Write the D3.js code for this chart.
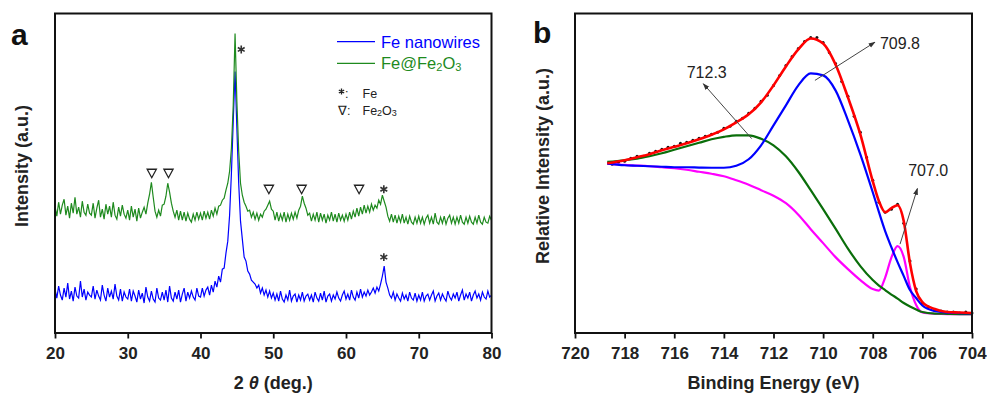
<!DOCTYPE html>
<html><head><meta charset="utf-8">
<script src="https://cdn.jsdelivr.net/npm/d3@7"></script>
<style>
body{margin:0;background:#fff;}
text{font-family:Arial,"Liberation Sans",sans-serif;}
</style></head><body>
<svg id="chart" width="987" height="396"></svg>
<script>
// ---------- Panel a: XRD (2θ grid 20..80, step 0.25) ----------
const xrdThetaStart = 20;
const xrdThetaStep = 0.25;
const xrdFeNanowires = [
 44,35,47,38,33,45,36,50,34,42,32,46,37,35,52,36,44,33,41,38,
 36,47,34,43,37,33,48,38,32,45,36,42,34,49,37,33,44,32,41,36,
 34,44,32,42,37,31,43,34,40,30,46,36,32,42,34,31,45,35,33,41,
 33,43,31,47,35,32,41,34,43,31,39,45,32,41,35,42,36,33,45,37,
 36,45,37,43,46,38,48,41,52,46,57,51,64,65,80,92,118,160,212,262,
 205,150,112,94,76,72,62,59,53,51,49,45,48,40,45,38,43,36,42,35,
 40,33,39,32,42,34,31,38,33,43,32,37,39,31,38,33,41,32,37,39,
 33,38,31,41,35,32,40,33,42,31,37,39,32,38,34,41,35,32,38,42,
 34,39,33,43,36,33,41,35,44,36,41,37,43,38,41,45,40,46,42,49,
 57,67,51,45,38,35,41,33,39,35,32,40,34,38,32,41,35,33,40,32,
 38,33,41,32,37,39,33,38,42,32,37,40,33,39,35,32,42,36,33,39,
 35,41,32,38,43,33,39,35,41,32,38,42,35,39,33,41,36,34,42,36,
 38
];
const xrdFeFe2O3 = [
 127,117,131,119,128,134,118,127,115,130,120,136,119,126,116,132,121,118,129,120,
 118,130,115,125,133,116,124,114,129,119,127,116,131,118,114,126,117,128,119,115,
 123,113,127,116,124,112,125,115,121,126,119,130,139,151,136,122,116,123,117,128,
 129,137,150,141,130,122,116,123,113,122,113,121,112,120,114,111,119,113,121,114,
 120,113,122,115,121,114,123,117,125,119,127,128,133,135,143,150,162,185,228,300,
 232,182,150,138,131,127,122,123,116,121,114,120,113,119,116,122,124,128,132,124,
 122,113,121,112,119,113,121,111,119,113,120,114,121,115,123,127,137,130,125,118,
 120,112,119,113,121,111,120,113,119,110,118,113,121,112,119,111,120,113,118,112,
 119,113,121,114,122,116,125,117,126,119,128,120,127,121,129,123,128,125,133,129,
 138,132,126,117,112,119,111,118,110,117,111,119,110,116,109,117,111,109,116,110,
 117,110,116,109,115,118,110,116,109,120,111,109,116,110,117,109,115,118,110,116,
 109,116,110,118,111,109,116,110,117,111,109,116,110,118,111,109,116,111,110,117,
 113
];
const xrdTicks = [20, 30, 40, 50, 60, 70, 80];
const xrdMinorTicks = [25, 35, 45, 55, 65, 75];
const fe2o3MarkTheta = [33.3, 35.6, 49.4, 53.9, 61.8];
const fe2o3MarkLevel = [160, 160, 144, 144, 144];
const feMarkTheta = [45.6, 65.2, 65.2];
const feMarkLevel = [284, 144, 76];
const xrdSeriesNames = ["Fe nanowires", "Fe@Fe2O3"];

// ---------- Panel b: XPS Fe 2p3/2 ----------
const xpsEnergy = [718.7,718,717.5,717,716.5,716,715.5,715,714.5,714,713.5,713,712.5,712,711.5,711,710.5,710,709.5,709,708.5,708,707.75,707.5,707.25,707,706.75,706.5,706.25,706,705.5,705,704.5,704];
const xpsEnvelope = [170,173,176,179,183,186.5,190,194,198.5,204,211,219,231,248,267,284,295,290,269,236,199,152,132,121,125,128,112,70,42,31,24,21,20.5,20];
const xpsPeak7098 = [169.7,168,167.5,167,166.5,166,166,165.7,165.5,165.5,167.5,174,188,208,228,248,260,258,243,213,179,141,121,102,86,71,57,43,35,27.5,22,20.5,20,19.7];
const xpsPeak7123 = [171.3,173,174.5,177,180,183.5,187,190.5,194,196.5,198,198,194.5,188,177,161.5,143,124,104.5,84.5,67,53,47.5,43,38.5,34.5,30,26.5,23.5,21,19.5,19.2,19,19];
const xpsPeak7070 = [169.7,168.3,167.7,167,166,165,163.5,161.5,159.5,157,153,148.5,143,137.5,130,118.5,104,90,76,64,53,44,42.5,55.5,75.5,87,76,46,28,20.5,19.3,19,19,19];
const xpsDataEnergy = [718.5,718.25,718,717.75,717.5,717.25,717,716.75,716.5,716.25,716,715.75,715.5,715.25,715,714.75,714.5,714.25,714,713.75,713.5,713.25,713,712.75,712.5,712.25,712,711.75,711.5,711.25,711,710.75,710.5,710.25,710,709.75,709.5,709.25,709,708.75,708.5,708.25,708,707.75,707.5,707.25,707,706.75,706.5,706.25,706,705.75,705.5,705.25,705,704.75,704.5,704.25,704];
const xpsDataCounts = [169,171,172,175,177,177,180,182,184,186,187,190,191,193,195,197,199,201,205,207,212,215,220,225,232,238,248,258,268,277,285,292,296,296,291,281,270,252,237,217,201,176,153,131,121,124,129,110,72,44,30,26,23,22,21,21,20,21,20];
const xpsTicks = [720,718,716,714,712,710,708,706,704];
const xpsMinorTicks = [719,717,715,713,711,709,707,705];
const xpsLabels = ["712.3", "709.8", "707.0"];
const xpsArrowFromE = [712.88, 710.33, 706.90];
const xpsArrowFromV = [194.7, 253, 89];
const xpsArrowToE = [714.83, 707.91, 706.20];
const xpsArrowToV = [249.7, 291.3, 144.7];
const xpsLabelE = [714.69, 707.71, 706.57];
const xpsLabelV = [255, 284, 157];
const xpsLabelAnchor = ["middle", "start", "start"];

// ---------- drawing ----------
const svg = d3.select("#chart");
const plotTop = 13.5, plotBottom = 333;
const A = {l: 55, r: 491.5};
const B = {l: 575, r: 972};
const yA = d3.scaleLinear().domain([0, 320]).range([plotBottom, plotTop]);
const yB = d3.scaleLinear().domain([0, 320]).range([plotBottom, plotTop]);
const xA = d3.scaleLinear().domain([20, 80]).range([A.l, A.r]);
const xB = d3.scaleLinear().domain([720, 704]).range([B.l, B.r]);

const defs = svg.append("defs");
defs.append("marker").attr("id","arrow").attr("viewBox","0 0 10 10")
  .attr("refX",9).attr("refY",5).attr("markerWidth",7).attr("markerHeight",7)
  .attr("orient","auto").append("path").attr("d","M0,1.5 L10,5 L0,8.5 Z").attr("fill","#333");

function drawAxis(x, major, minor){
  const g = svg.append("g").attr("transform", `translate(0,${plotBottom})`);
  g.call(d3.axisBottom(x).tickValues(minor).tickSize(3.5).tickFormat(""));
  g.call(d3.axisBottom(x).tickValues(major).tickSize(5.5).tickPadding(8).tickFormat(d3.format("d")));
  g.selectAll(".domain").remove();
  g.selectAll("line").attr("stroke","#111").attr("stroke-width",1.8);
  g.selectAll("text").attr("font-size",17).attr("font-weight","bold").attr("fill","#222")
    .attr("font-family","Arial, 'Liberation Sans', sans-serif");
}

// Panel a
const thetas = xrdFeNanowires.map((_, i) => xrdThetaStart + i * xrdThetaStep);
const lineA = d3.line().x((d, i) => xA(thetas[i])).y(d => yA(d));
svg.append("path").datum(xrdFeNanowires).attr("d", lineA)
  .attr("fill","none").attr("stroke","#0000ff").attr("stroke-width",1.2);
svg.append("path").datum(xrdFeFe2O3).attr("d", lineA)
  .attr("fill","none").attr("stroke","#1e8a1e").attr("stroke-width",1.2);

drawAxis(xA, xrdTicks, xrdMinorTicks);
svg.append("rect").attr("x",A.l).attr("y",plotTop).attr("width",A.r-A.l).attr("height",plotBottom-plotTop)
  .attr("fill","none").attr("stroke","#111").attr("stroke-width",2);

// markers
svg.selectAll(".tri").data(fe2o3MarkTheta).enter().append("path")
  .attr("transform",(d,i)=>`translate(${xA(d)},${yA(fe2o3MarkLevel[i])})`)
  .attr("d","M-4.6,-4 L4.6,-4 L0,4.5 Z").attr("fill","#fff").attr("stroke","#222").attr("stroke-width",1.3);
svg.selectAll(".ast").data(feMarkTheta).enter().append("path")
  .attr("transform",(d,i)=>`translate(${xA(d)},${yA(feMarkLevel[i])})`)
  .attr("d", d3.symbol(d3.symbolAsterisk, 44)()).attr("fill","none").attr("stroke","#333").attr("stroke-width",1.6);

// legend
svg.append("line").attr("x1",337).attr("x2",375).attr("y1",41.7).attr("y2",41.7).attr("stroke","#0000ff").attr("stroke-width",1.2);
svg.append("text").attr("x",381).attr("y",47.5).attr("font-size",16.5).attr("fill","#0000ff").text(xrdSeriesNames[0]);
svg.append("line").attr("x1",337).attr("x2",375).attr("y1",63.3).attr("y2",63.3).attr("stroke","#1e8a1e").attr("stroke-width",1.2);
const lg = svg.append("text").attr("x",381).attr("y",69).attr("font-size",16.5).attr("fill","#1e8a1e");
lg.append("tspan").text("Fe@Fe");
lg.append("tspan").attr("font-size",11).attr("dy",1.5).text("2");
lg.append("tspan").attr("dy",-1.5).text("O");
lg.append("tspan").attr("font-size",11).attr("dy",1.5).text("3");
svg.append("path").attr("transform","translate(341.5,91.5)").attr("d", d3.symbol(d3.symbolAsterisk, 26)())
  .attr("fill","none").attr("stroke","#222").attr("stroke-width",1.3);
svg.append("text").attr("x",345).attr("y",97.5).attr("font-size",12.5).attr("fill","#222").text(":");
svg.append("text").attr("x",362.5).attr("y",97.5).attr("font-size",12.5).attr("fill","#222").text("Fe");
svg.append("text").attr("x",338).attr("y",114.5).attr("font-size",12.5).attr("fill","#222").text("∇:");
const lf = svg.append("text").attr("x",362.5).attr("y",114.5).attr("font-size",12.5).attr("fill","#222");
lf.append("tspan").text("Fe");
lf.append("tspan").attr("font-size",9).attr("dy",1).text("2");
lf.append("tspan").attr("dy",-1).text("O");
lf.append("tspan").attr("font-size",9).attr("dy",1).text("3");

// titles a
svg.append("text").attr("x",11).attr("y",45).attr("font-size",30).attr("font-weight","bold").attr("fill","#111").text("a");
svg.append("text").attr("transform","translate(28,166) rotate(-90)").attr("text-anchor","middle")
  .attr("font-size",18).attr("font-weight","bold").attr("fill","#222").text("Intensity (a.u.)");
const xt = svg.append("text").attr("x",(A.l+A.r)/2).attr("y",389).attr("text-anchor","middle")
  .attr("font-size",18).attr("font-weight","bold").attr("fill","#222");
xt.append("tspan").text("2 ");
xt.append("tspan").attr("font-style","italic").text("θ");
xt.append("tspan").text(" (deg.)");

// Panel b
const lineB = arr => d3.line().curve(d3.curveMonotoneX).x((d,i)=>xB(xpsEnergy[i])).y(d=>yB(d))(arr);
svg.selectAll(".dot").data(xpsDataCounts).enter().append("circle")
  .attr("cx",(d,i)=>xB(xpsDataEnergy[i])).attr("cy",d=>yB(d)).attr("r",1.5).attr("fill","#111");
svg.append("path").attr("d",lineB(xpsPeak7070)).attr("fill","none").attr("stroke","#ff00ff").attr("stroke-width",2.2);
svg.append("path").attr("d",lineB(xpsPeak7123)).attr("fill","none").attr("stroke","#0a6e0a").attr("stroke-width",2.2);
svg.append("path").attr("d",lineB(xpsPeak7098)).attr("fill","none").attr("stroke","#0000ff").attr("stroke-width",2.2);
svg.append("path").attr("d",lineB(xpsEnvelope)).attr("fill","none").attr("stroke","#ff0000").attr("stroke-width",2.6);

// annotations
xpsLabels.forEach((lab,i)=>{
  svg.append("line").attr("x1",xB(xpsArrowFromE[i])).attr("y1",yB(xpsArrowFromV[i]))
    .attr("x2",xB(xpsArrowToE[i])).attr("y2",yB(xpsArrowToV[i]))
    .attr("stroke","#444").attr("stroke-width",1).attr("marker-end","url(#arrow)");
  svg.append("text").attr("x",xB(xpsLabelE[i])).attr("y",yB(xpsLabelV[i])).attr("text-anchor",xpsLabelAnchor[i])
    .attr("font-size",16).attr("fill","#222").text(lab);
});

drawAxis(xB, xpsTicks, xpsMinorTicks);
svg.append("rect").attr("x",B.l).attr("y",plotTop).attr("width",B.r-B.l).attr("height",plotBottom-plotTop)
  .attr("fill","none").attr("stroke","#111").attr("stroke-width",2);

svg.append("text").attr("x",533).attr("y",43).attr("font-size",30).attr("font-weight","bold").attr("fill","#111").text("b");
svg.append("text").attr("transform","translate(549,166) rotate(-90)").attr("text-anchor","middle")
  .attr("font-size",18).attr("font-weight","bold").attr("fill","#222").text("Relative Intensity (a.u.)");
svg.append("text").attr("x",(B.l+B.r)/2).attr("y",389).attr("text-anchor","middle")
  .attr("font-size",18).attr("font-weight","bold").attr("fill","#222").text("Binding Energy (eV)");
</script>
</body></html>
